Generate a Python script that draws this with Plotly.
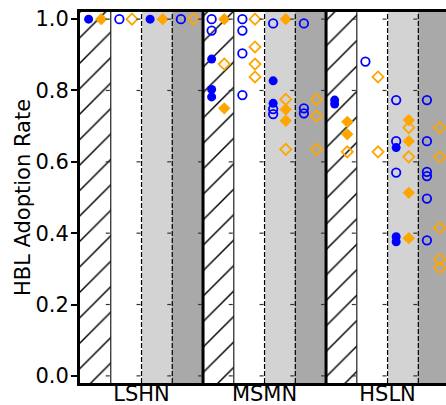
import plotly.graph_objects as go

# ---------------- data ----------------
groups = ["LSHN", "MSMN", "HSLN"]
sub_fill = ["white", "white", "#d3d3d3", "#a9a9a9"]   # per sub-column (first is hatched)
y_tick_vals = [0.0, 0.2, 0.4, 0.6, 0.8, 1.0]
y_tick_text = ["0.0", "0.2", "0.4", "0.6", "0.8", "1.0"]

# column index 0..11 (4 sub-columns per group)
blue_filled_col = [0, 2, 4, 4, 4, 6, 6, 8, 8, 10, 10, 10]
blue_filled_val = [1.0, 1.0, 0.888, 0.803, 0.782, 0.827, 0.764, 0.773, 0.762, 0.640, 0.390, 0.376]

blue_open_col = [1, 3, 4, 4, 5, 5, 5, 5, 6, 6, 6, 7, 7, 7,
                 9, 10, 10, 10, 11, 11, 11, 11, 11, 11]
blue_open_val = [1.0, 1.0, 1.0, 0.968, 1.0, 0.968, 0.904, 0.787, 0.988, 0.748, 0.734, 0.988, 0.75, 0.736,
                 0.881, 0.773, 0.658, 0.570, 0.773, 0.658, 0.572, 0.560, 0.497, 0.380]

orange_filled_col = [0, 2, 4, 4, 6, 6, 6, 8, 8, 10, 10, 10, 10]
orange_filled_val = [1.0, 1.0, 1.0, 0.75, 1.0, 0.747, 0.715, 0.712, 0.677, 0.717, 0.658, 0.513, 0.386]

orange_open_col = [1, 3, 4, 5, 5, 5, 5, 6, 6, 7, 7, 7,
                   8, 9, 9, 10, 10, 11, 11, 11, 11, 11]
orange_open_val = [1.0, 1.0, 0.874, 1.0, 0.922, 0.874, 0.838, 0.775, 0.635, 0.775, 0.728, 0.635,
                   0.628, 0.838, 0.628, 0.696, 0.614, 0.696, 0.614, 0.415, 0.327, 0.303]

# ---------------- figure ----------------
n_sub = len(sub_fill)
n_col = n_sub * len(groups)
BLUE_OFF, ORANGE_OFF = 0.28, 0.69
FONT = "DejaVu Sans"

fig = go.Figure()

# background columns
for s in range(n_sub):
    xs = [c + 0.5 for c in range(n_col) if c % n_sub == s]
    marker = dict(color=sub_fill[s], line=dict(width=0))
    if s == 0:
        marker["pattern"] = dict(shape="/", fgcolor="black", bgcolor="white",
                                 size=18, solidity=0.08, fillmode="replace")
    fig.add_trace(go.Bar(x=xs, y=[1.4] * len(xs), base=-0.2, width=1.0,
                         marker=marker, showlegend=False, hoverinfo="skip"))

def pts(cols, vals, off, symbol, color, size, lw):
    fig.add_trace(go.Scatter(
        x=[c + off for c in cols], y=vals, mode="markers",
        marker=dict(symbol=symbol, size=size, color=color,
                    line=dict(color=color, width=lw)),
        showlegend=False, cliponaxis=False, hoverinfo="skip"))

pts(blue_filled_col, blue_filled_val, BLUE_OFF, "circle", "blue", 9, 0)
pts(blue_open_col, blue_open_val, BLUE_OFF, "circle-open", "blue", 8.5, 1.8)
pts(orange_filled_col, orange_filled_val, ORANGE_OFF, "diamond", "orange", 9.5, 0)
pts(orange_open_col, orange_open_val, ORANGE_OFF, "diamond-open", "orange", 8.5, 1.8)

shapes = []
for k in range(1, n_col):
    sub = k % n_sub
    if sub == 0:
        line = dict(color="black", width=3)
    elif sub == 1:
        line = dict(color="#222", width=1.2)
    else:
        line = dict(color="black", width=1.2, dash="5px,2px")
    shapes.append(dict(type="line", xref="x", yref="paper", x0=k, x1=k, y0=0, y1=1,
                       line=line, layer="above"))
    for v in y_tick_vals:
        shapes.append(dict(type="line", xref="x", yref="y", xsizemode="pixel", xanchor=k,
                           x0=-5, x1=-1, y0=v, y1=v, line=dict(color="#333", width=1.2),
                           layer="above"))

fig.update_layout(
    width=446, height=405,
    margin=dict(l=80, r=0, t=12, b=22),
    paper_bgcolor="white", plot_bgcolor="white",
    barmode="overlay", bargap=0,
    font=dict(family=FONT, size=21, color="black"),
    shapes=shapes,
    xaxis=dict(range=[0, 11.9], tickvals=[2, 6, 10], ticktext=groups, ticks="",
               showgrid=False, zeroline=False, showline=True, linecolor="black",
               linewidth=2.5, mirror=True, automargin=False, ticklabelstandoff=-10,
               tickfont=dict(family=FONT, size=21, color="black")),
    yaxis=dict(range=[-0.02, 1.02], tickvals=y_tick_vals, ticktext=y_tick_text,
               ticks="outside", ticklen=6, tickwidth=1.5, tickcolor="black",
               showgrid=False, zeroline=False, showline=True, linecolor="black",
               linewidth=3, automargin=False, ticklabelstandoff=-2,
               title=dict(text="HBL Adoption Rate", standoff=0,
                          font=dict(family=FONT, size=21, color="black")),
               tickfont=dict(family=FONT, size=21, color="black")),
)

fig.write_html("out.html", config={"displayModeBar": False},
               post_script="document.body.style.margin='0';document.body.style.overflow='hidden';")
